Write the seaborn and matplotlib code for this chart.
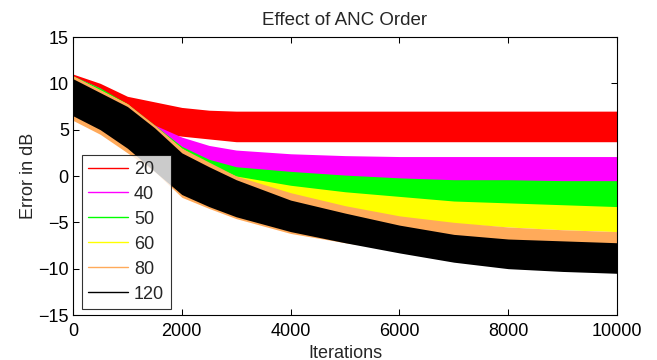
import pandas as pd
import matplotlib
matplotlib.use("Agg")
import matplotlib.pyplot as plt
from matplotlib.lines import Line2D
import seaborn as sns

iters = [0, 500, 1000, 1500, 2000, 2500, 3000, 4000, 5000, 6000, 7000, 8000, 9000, 10000]

orders = ["20", "40", "50", "60", "80", "120"]
colors = ["#ff0000", "#ff00ff", "#00ff00", "#ffff00", "#ffaa5a", "#000000"]

# lower / upper edge of each noisy error curve (dB)
low_20 = [7.0, 6.0, 5.3, 4.7, 4.3, 4.0, 3.7, 3.7, 3.7, 3.7, 3.7, 3.7, 3.7, 3.7]
up_20 = [11.0, 10.0, 8.6, 8.0, 7.4, 7.1, 7.0, 7.0, 7.0, 7.0, 7.0, 7.0, 7.0, 7.0]
low_40 = [6.5, 5.0, 3.5, 1.5, 0.5, 0.0, -0.5, -0.7, -0.9, -1.0, -1.0, -1.0, -1.0, -1.0]
up_40 = [10.8, 9.5, 7.5, 5.5, 4.2, 3.3, 2.8, 2.4, 2.2, 2.1, 2.1, 2.1, 2.1, 2.1]
low_50 = [6.5, 5.0, 3.0, 1.0, -1.0, -1.5, -1.5, -2.3, -2.8, -3.2, -3.5, -3.6, -3.7, -3.8]
up_50 = [10.8, 9.5, 7.8, 5.5, 3.2, 1.8, 1.0, 0.5, 0.1, -0.2, -0.4, -0.4, -0.5, -0.5]
low_60 = [6.5, 5.0, 3.0, 1.0, -1.0, -1.8, -2.5, -3.0, -3.6, -4.4, -5.1, -5.5, -5.8, -6.0]
up_60 = [10.8, 9.3, 7.8, 5.3, 3.0, 1.3, 0.0, -1.0, -1.7, -2.2, -2.7, -2.9, -3.1, -3.3]
low_80 = [6.0, 4.5, 2.5, 0.5, -2.3, -3.5, -4.6, -6.2, -7.2, -8.0, -8.6, -9.0, -9.0, -9.0]
up_80 = [10.8, 9.3, 7.8, 5.5, 3.0, 1.5, 0.0, -1.8, -3.2, -4.3, -5.0, -5.5, -5.8, -6.0]
low_120 = [6.5, 5.0, 3.0, 0.5, -2.0, -3.3, -4.4, -6.0, -7.2, -8.3, -9.3, -10.0, -10.3, -10.5]
up_120 = [10.5, 9.0, 7.5, 5.2, 2.5, 1.0, -0.4, -2.6, -4.0, -5.3, -6.3, -6.8, -7.0, -7.2]

lows = [low_20, low_40, low_50, low_60, low_80, low_120]
ups = [up_20, up_40, up_50, up_60, up_80, up_120]

rows = []
for order, lo, hi in zip(orders, lows, ups):
    for x, a, b in zip(iters, lo, hi):
        rows.append((order, x, a))
        rows.append((order, x, b))
df = pd.DataFrame(rows, columns=["order", "iteration", "error"])

sns.set_style("ticks")
plt.rcParams["font.family"] = ["Liberation Sans", "DejaVu Sans"]
plt.rcParams["xtick.direction"] = "in"
plt.rcParams["ytick.direction"] = "in"
plt.rcParams["xtick.top"] = True
plt.rcParams["ytick.right"] = True

fig = plt.figure(figsize=(6.57, 3.6), dpi=100)
ax = fig.add_axes([0.1111, 0.125, 0.828, 0.7722])

# min-max band of each curve, drawn 20 first and 120 on top
sns.lineplot(data=df, x="iteration", y="error", hue="order", hue_order=orders,
             palette=colors, errorbar=("pi", 100), estimator="mean",
             linewidth=0, err_kws={"alpha": 1, "linewidth": 0},
             legend=False, ax=ax)

ax.set_xlim(0, 10000)
ax.set_ylim(-15, 15)
ax.set_xticks(range(0, 10001, 2000))
ax.set_yticks(range(-15, 16, 5))
ax.tick_params(labelsize=13, length=4, width=0.75, colors="black")
ax.tick_params(axis="x", pad=6)
ax.tick_params(axis="y", pad=3)
for s in ax.spines.values():
    s.set_linewidth(0.8)
    s.set_color("black")

ax.set_title("Effect of ANC Order", fontsize=13.5, pad=9)
ax.set_xlabel("Iterations", fontsize=13, labelpad=3)
ax.set_ylabel("Error in dB", fontsize=13, labelpad=1)

handles = [Line2D([0], [0], color=c, lw=1) for c in colors]
leg = ax.legend(handles, orders, loc="lower left", fontsize=13,
                bbox_to_anchor=(0.016, 0.022), frameon=True, fancybox=False,
                handlelength=2.2, handletextpad=0.35, labelspacing=0.44,
                borderpad=0.35, borderaxespad=0)
leg.get_frame().set_edgecolor("black")
leg.get_frame().set_linewidth(0.8)

fig.savefig("out.png", dpi=100)
